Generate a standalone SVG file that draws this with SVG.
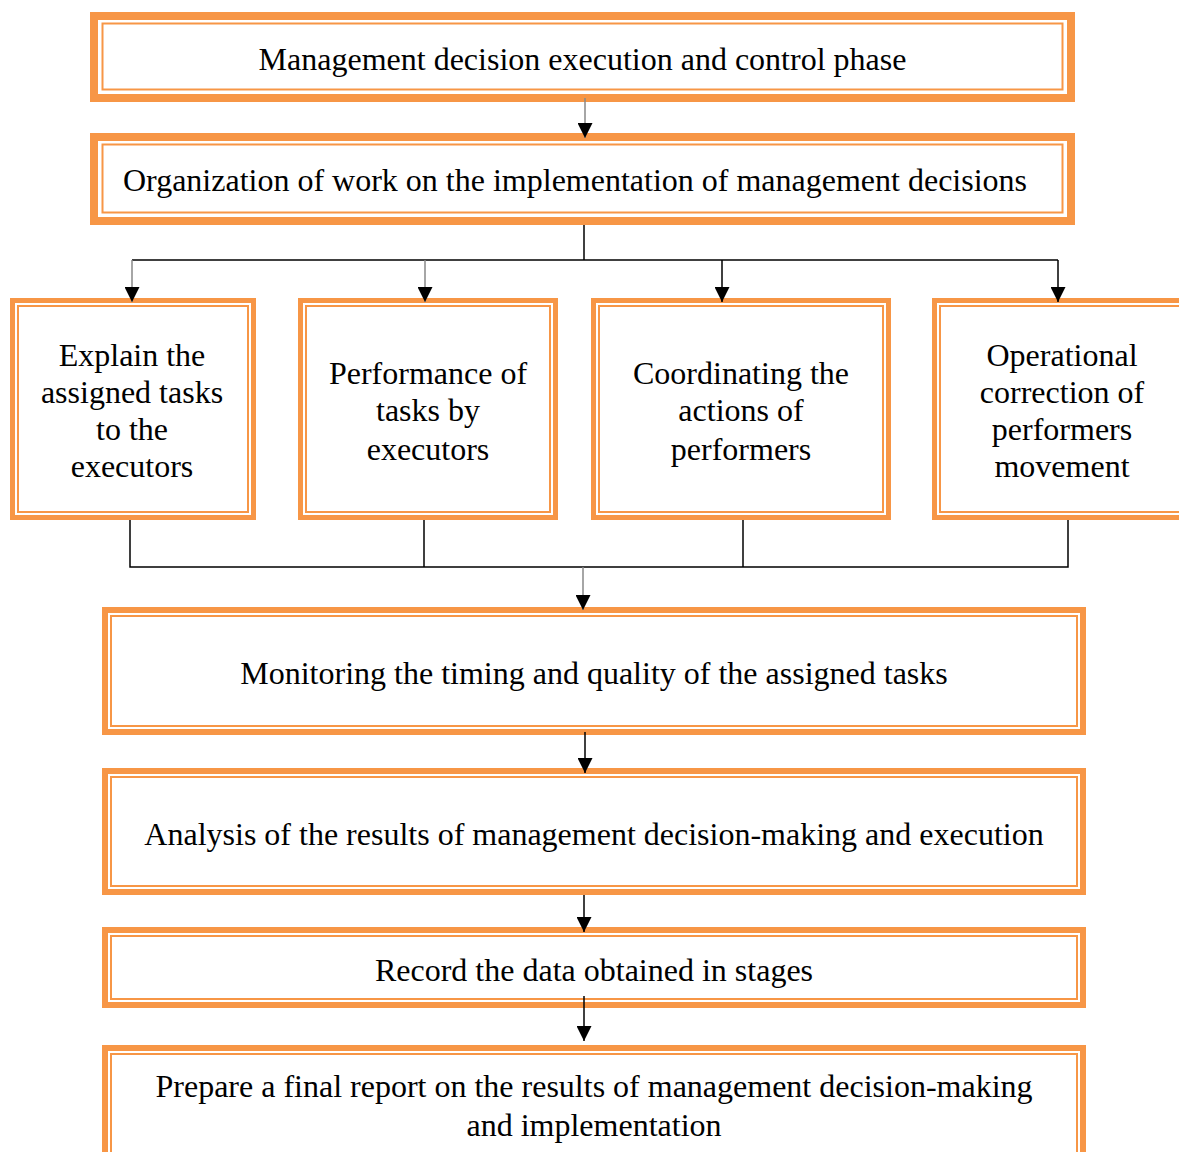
<svg xmlns="http://www.w3.org/2000/svg" width="1179" height="1152" viewBox="0 0 1179 1152">
<defs>
<style>
.o{fill:#fff;stroke:#F79646}
.i{fill:none;stroke:#F79646;stroke-width:2}
.t{font-family:"Liberation Serif","Times New Roman",serif;font-size:32px;fill:#000;text-anchor:middle}
.c{fill:none;stroke:#000;stroke-width:1.5}
.g{fill:none;stroke:#888;stroke-width:1.5}
</style>
<marker id="ah" viewBox="0 0 10 10" refX="10" refY="5" markerWidth="15" markerHeight="15" markerUnits="userSpaceOnUse" orient="auto">
<path d="M0,0 L10,5 L0,10 Z" fill="#000"/>
</marker>
</defs>
<rect width="1179" height="1152" fill="#fff"/>
<g id="n1">
<rect class="o" x="94" y="16" width="977" height="82" stroke-width="8"/>
<rect class="i" x="102.5" y="23.5" width="960" height="66"/>
<text class="t" x="582.5" y="70">Management decision execution and control phase</text>
</g>
<g id="n2">
<rect class="o" x="94" y="137" width="977" height="84" stroke-width="8"/>
<rect class="i" x="102.5" y="144.5" width="960" height="68"/>
<text class="t" x="575" y="191">Organization of work on the implementation of management decisions</text>
</g>
<g id="n3">
<rect class="o" x="12.5" y="300.5" width="241" height="217" stroke-width="5"/>
<rect class="i" x="18" y="306" width="230" height="206"/>
<text class="t" x="132" y="366">Explain the</text>
<text class="t" x="132" y="403">assigned tasks</text>
<text class="t" x="132" y="440">to the</text>
<text class="t" x="132" y="477">executors</text>
</g>
<g id="n4">
<rect class="o" x="300.5" y="300.5" width="255" height="217" stroke-width="5"/>
<rect class="i" x="306" y="306" width="244" height="206"/>
<text class="t" x="428" y="384">Performance of</text>
<text class="t" x="428" y="421">tasks by</text>
<text class="t" x="428" y="460">executors</text>
</g>
<g id="n5">
<rect class="o" x="593.5" y="300.5" width="295" height="217" stroke-width="5"/>
<rect class="i" x="599" y="306" width="284" height="206"/>
<text class="t" x="741" y="384">Coordinating the</text>
<text class="t" x="741" y="421">actions of</text>
<text class="t" x="741" y="460">performers</text>
</g>
<g id="n6">
<rect class="o" x="934.5" y="300.5" width="260" height="217" stroke-width="5"/>
<rect class="i" x="940" y="306" width="260" height="206"/>
<text class="t" x="1062" y="366">Operational</text>
<text class="t" x="1062" y="403">correction of</text>
<text class="t" x="1062" y="440">performers</text>
<text class="t" x="1062" y="477">movement</text>
</g>
<g id="n7">
<rect class="o" x="105" y="610" width="978" height="122" stroke-width="6"/>
<rect class="i" x="111" y="616" width="966" height="110"/>
<text class="t" x="594" y="684">Monitoring the timing and quality of the assigned tasks</text>
</g>
<g id="n8">
<rect class="o" x="105" y="771" width="978" height="121" stroke-width="6"/>
<rect class="i" x="111" y="777" width="966" height="109"/>
<text class="t" x="594" y="845">Analysis of the results of management decision-making and execution</text>
</g>
<g id="n9">
<rect class="o" x="105" y="930" width="978" height="75" stroke-width="6"/>
<rect class="i" x="111" y="936" width="966" height="63"/>
<text class="t" x="594" y="981">Record the data obtained in stages</text>
</g>
<g id="n10">
<rect class="o" x="105" y="1048" width="978" height="120" stroke-width="6"/>
<rect class="i" x="111" y="1054" width="966" height="120"/>
<text class="t" x="594" y="1097">Prepare a final report on the results of management decision-making</text>
<text class="t" x="594" y="1136">and implementation</text>
</g>
<g id="connectors">
<line class="g" x1="585" y1="98" x2="585" y2="138" marker-end="url(#ah)"/>
<polyline class="c" points="584,225 584,260"/>
<line class="c" x1="132" y1="260" x2="1058" y2="260"/>
<line class="g" x1="132" y1="260" x2="132" y2="302" marker-end="url(#ah)"/>
<line class="g" x1="425" y1="260" x2="425" y2="302" marker-end="url(#ah)"/>
<line class="c" x1="722" y1="260" x2="722" y2="302" marker-end="url(#ah)"/>
<line class="c" x1="1058" y1="260" x2="1058" y2="302" marker-end="url(#ah)"/>
<polyline class="c" points="130,520 130,567 1068,567 1068,520"/>
<line class="c" x1="424" y1="520" x2="424" y2="567"/>
<line class="c" x1="743" y1="520" x2="743" y2="567"/>
<line class="g" x1="583" y1="567" x2="583" y2="610" marker-end="url(#ah)"/>
<line class="c" x1="585" y1="732" x2="585" y2="773" marker-end="url(#ah)"/>
<line class="c" x1="584" y1="895" x2="584" y2="932" marker-end="url(#ah)"/>
<line class="c" x1="584" y1="996" x2="584" y2="1041" marker-end="url(#ah)"/>
</g>
</svg>
